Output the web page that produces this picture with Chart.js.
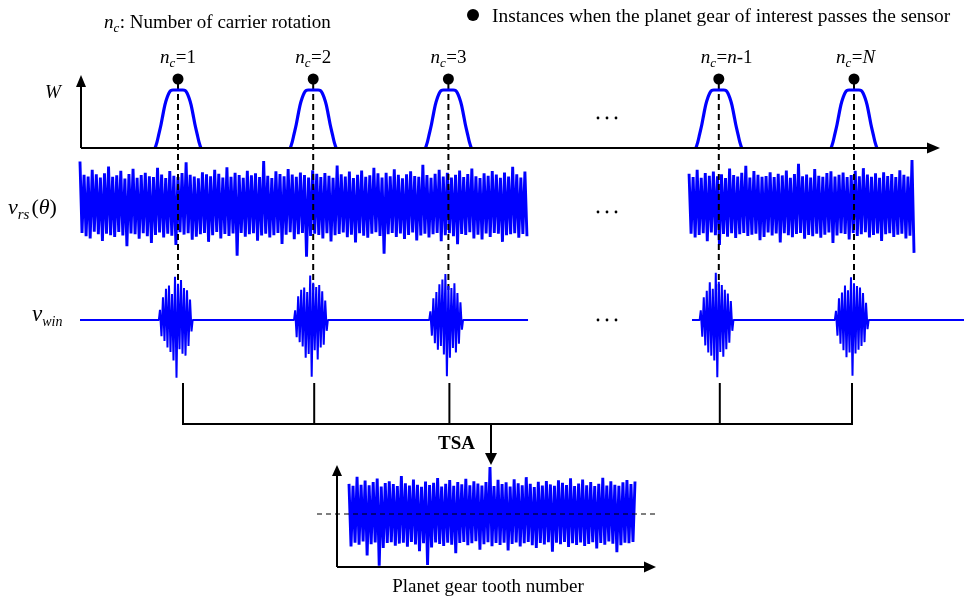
<!DOCTYPE html>
<html>
<head>
<meta charset="utf-8">
<script src="https://cdn.jsdelivr.net/npm/chart.js@4.4.0/dist/chart.umd.min.js"></script>
<style>
  html, body { margin: 0; padding: 0; background: #fff; }
  #wrap { position: relative; width: 964px; height: 597px; }
</style>
</head>
<body>
<div id="wrap"><canvas id="tsaChart" width="964" height="597"></canvas></div>
<script>
// carrier rotations that are drawn (slot 4 is left for the dots)
const rotationLabels = ['1', '2', '3', 'n-1', 'N'];
const rotationSlots = [1, 2, 3, 5, 6];

// window W against angle from the pass instant (deg of carrier rotation)
const windowDeg = [-61, -56, -51, -45, -40, -35, -29, -24, -19, -13, 0, 13, 19, 24, 29, 35, 40, 45, 51, 56, 61];
const windowGain = [0, 0.1, 0.24, 0.41, 0.58, 0.74, 0.87, 0.95, 0.99, 1, 1, 1, 0.99, 0.95, 0.87, 0.74, 0.58, 0.41, 0.24, 0.1, 0];

// v_rs(theta), first stretch (rotations 1-3) and last stretch (n-1 .. N)
const vrsFirst = [
  150, -96, 104, -108, 98, -115, 121, -92, 106, -101, 95, -124, 109, -99, 133, -104, 97, -110, 102, -93,
  118, -105, 91, -142, 107, -98, 125, -101, 94, -116, 103, -97, 111, -108, 99, -131, 96, -103, 128, -95,
  105, -112, 93, -99, 117, -106, 101, -138, 96, -94, 110, -102, 147, -97, 104, -120, 98, -109, 92, -101,
  113, -96, 106, -127, 99, -104, 121, -93, 108, -115, 95, -100, 130, -107, 97, -98, 111, -175, 103, -96,
  94, -109, 118, -101, 102, -97, 109, -123, 96, -105, 152, -99, 101, -112, 93, -104, 116, -96, 107, -134,
  99, -102, 124, -94, 105, -118, 97, -101, 112, -96, 103, -178, 95, -107, 120, -99, 108, -103, 96, -115,
  110, -97, 101, -126, 94, -104, 136, -100, 106, -95, 98, -111, 115, -102, 93, -129, 104, -97, 119, -106,
  97, -113, 102, -99, 128, -94, 109, -107, 95, -168, 111, -101, 99, -96, 123, -110, 104, -98, 92, -117,
  106, -103, 116, -95, 100, -122, 97, -105, 139, -99, 103, -112, 94, -101, 108, -96, 121, -125, 98, -104,
  111, -97, 95, -108, 104, -135, 119, -100, 96, -103, 107, -94, 126, -115, 99, -102, 93, -119, 109, -98,
  101, -110, 117, -96, 105, -99, 94, -127, 112, -104, 98, -101, 132, -97, 106, -113, 95, -100, 115, -108
];
const vrsLast = [
  108, -99, 96, -112, 121, -103, 94, -97, 110, -125, 101, -95, 115, -104, 99, -138, 106, -100, 93, -109,
  126, -97, 103, -114, 98, -101, 111, -96, 135, -107, 95, -102, 117, -99, 104, -121, 97, -110, 100, -95,
  113, -105, 96, -98, 108, -129, 102, -97, 119, -104, 94, -111, 107, -100, 142, -96, 99, -116, 105, -103,
  95, -108, 124, -99, 101, -113, 97, -102, 110, -95, 116, -131, 98, -105, 104, -97, 112, -100, 96, -119,
  103, -96, 118, -107, 99, -101, 127, -94, 105, -112, 97, -103, 109, -98, 94, -124, 113, -101, 100, -97,
  107, -110, 96, -102, 120, -99, 104, -115, 98, -106, 155, -165
];

// windowed signal v_win around each pass instant
const burstDeg = [-48, -44, -40, -36, -32, -28, -24, -20, -16, -12, -8, -4, 0, 4, 8, 12, 16, 20, 24, 28, 32, 36];
const winBursts = [
  [38, -60, 84, -78, 116, -102, 128, -118, 96, -150, 160, -214, 134, -108, 148, -125, 118, -132, 110, -96, 76, -42],
  [36, -64, 88, -82, 112, -98, 120, -140, 104, -126, 165, -210, 138, -112, 122, -146, 130, -102, 106, -92, 72, -40],
  [32, -58, 80, -86, 104, -110, 132, -96, 150, -128, 170, -208, 126, -140, 118, -104, 136, -120, 100, -88, 66, -36],
  [36, -62, 84, -94, 108, -120, 140, -132, 116, -150, 175, -212, 142, -118, 130, -136, 112, -108, 98, -84, 70, -40],
  [34, -58, 80, -88, 102, -112, 128, -138, 110, -120, 158, -206, 136, -124, 126, -110, 120, -96, 100, -82, 64, -34]
];

// time synchronous average over one planet revolution
const tsaValues = [
  104, -112, 97, -99, 128, -106, 101, -95, 115, -143, 99, -104, 110, -98, 122, -178, 95, -117, 107, -100,
  113, -97, 103, -109, 96, -102, 131, -99, 106, -113, 98, -96, 119, -105, 101, -128, 94, -101, 112, -176,
  100, -115, 108, -98, 124, -103, 95, -110, 104, -99, 117, -106, 97, -135, 110, -100, 102, -96, 121, -108,
  99, -101, 113, -94, 105, -123, 98, -104, 110, -97, 162, -111, 96, -100, 118, -107, 103, -99, 109, -126,
  95, -103, 120, -98, 106, -112, 99, -101, 127, -96, 104, -108, 93, -117, 111, -100, 98, -105, 114, -97,
  102, -130, 97, -99, 116, -104, 108, -96, 100, -114, 123, -101, 96, -107, 105, -98, 119, -110, 99, -103,
  110, -97, 96, -119, 104, -100, 125, -106, 98, -95, 113, -102, 101, -132, 97, -108, 109, -99, 117, -101,
  103, -96, 112
];

const W = 964, H = 597;
const BLUE = '#0000ff';
const SERIF = '"Liberation Serif", "Times New Roman", serif';

// where each stretch of signal starts and ends (in carrier rotations)
const rsStretches = [{ from: 0.275, to: 3.581, values: vrsFirst }, { from: 4.78, to: 6.444, values: vrsLast }];
const winStretches = [{ from: 0.275, to: 3.589 }, { from: 4.802, to: 6.82 }];
// small sideways nudges of the bracket feet, as drawn in the figure
const footNudge = [5, 1, 1, 1, -2];

function xRange(v0, p0, pxPerUnit) {
  return { min: v0 - p0 / pxPerUnit, max: v0 + (W - p0) / pxPerUnit };
}
function yRange(p0, pxPerUnit) {
  return { min: (p0 - H) / pxPerUnit, max: p0 / pxPerUnit };
}

function spread(values, from, to) {
  const step = (to - from) / (values.length - 1);
  return values.map((v, i) => ({ x: from + i * step, y: v }));
}

function lineSet(data, xAxisID, yAxisID, extra) {
  return Object.assign({
    data, xAxisID, yAxisID,
    showLine: true, pointRadius: 0, borderColor: BLUE, borderWidth: 1.8,
    borderJoinStyle: 'bevel', fill: false, tension: 0
  }, extra);
}

const datasets = [];

rsStretches.forEach(s => {
  datasets.push(lineSet(spread(s.values, s.from, s.to), 'xRot', 'yRs', { borderWidth: 2.9, order: 6 }));
});

rotationSlots.forEach(slot => {
  datasets.push(lineSet([{ x: slot, y: 84 }, { x: slot, y: 290 }], 'xRot', 'yPage', {
    borderColor: '#000', borderWidth: 2, borderDash: [6, 4], order: 5
  }));
});

winStretches.forEach(s => {
  const pts = [{ x: s.from, y: 0 }];
  rotationSlots.forEach((slot, k) => {
    if (slot < s.from || slot > s.to) return;
    pts.push({ x: slot - 51 / 360, y: 0 });
    winBursts[k].forEach((v, i) => pts.push({ x: slot + burstDeg[i] / 360, y: v }));
    pts.push({ x: slot + 39 / 360, y: 0 });
  });
  pts.push({ x: s.to, y: 0 });
  datasets.push(lineSet(pts, 'xRot', 'yWin', { borderWidth: 2, order: 4 }));
});

rotationSlots.forEach(slot => {
  const pts = windowDeg.map((d, i) => ({ x: slot + d / 360, y: windowGain[i] }));
  datasets.push(lineSet(pts, 'xRot', 'yW', { borderWidth: 3.2, borderJoinStyle: 'round', cubicInterpolationMode: 'monotone', order: 3 }));
});

datasets.push({
  data: rotationSlots.map(slot => ({ x: slot, y: 79 })),
  xAxisID: 'xRot', yAxisID: 'yPage',
  pointRadius: 5.5, pointBackgroundColor: '#000', pointBorderWidth: 0, showLine: false, order: 2
});

datasets.push(lineSet(tsaValues.map((v, i) => ({ x: i, y: v })), 'xTsa', 'yTsa', { borderWidth: 2.9, order: 6 }));

function runFont(r, base) {
  return `${r.i ? 'italic ' : ''}${r.b ? 'bold ' : ''}${r.size || base}px ${SERIF}`;
}

function drawRuns(ctx, runs, x, y, base, align) {
  let total = 0;
  runs.forEach(r => {
    ctx.font = runFont(r, base);
    r.w = ctx.measureText(r.t).width + (r.gap || 0);
    total += r.w;
  });
  let cx = align === 'center' ? x - total / 2 : align === 'right' ? x - total : x;
  runs.forEach(r => {
    ctx.font = runFont(r, base);
    ctx.fillText(r.t, cx, y + (r.dy || 0));
    cx += r.w;
  });
}

function ncRuns(label) {
  const runs = [{ t: 'n', i: 1 }, { t: 'c', i: 1, size: 13, dy: 4, gap: 0.5 }, { t: '=' }];
  label.split(/([A-Za-z]+)/).filter(Boolean).forEach(part => {
    runs.push({ t: part, i: /[A-Za-z]/.test(part) ? 1 : 0 });
  });
  return runs;
}

function seg(ctx, x1, y1, x2, y2) {
  ctx.beginPath();
  ctx.moveTo(x1, y1);
  ctx.lineTo(x2, y2);
  ctx.stroke();
}

function head(ctx, x, y, dir, len, half) {
  ctx.beginPath();
  ctx.moveTo(x, y);
  if (dir === 'up') { ctx.lineTo(x - half, y + len); ctx.lineTo(x + half, y + len); }
  if (dir === 'down') { ctx.lineTo(x - half, y - len); ctx.lineTo(x + half, y - len); }
  if (dir === 'right') { ctx.lineTo(x - len, y - half); ctx.lineTo(x - len, y + half); }
  ctx.closePath();
  ctx.fill();
}

function dot(ctx, x, y, r) {
  ctx.beginPath();
  ctx.arc(x, y, r, 0, Math.PI * 2);
  ctx.fill();
}

const decor = {
  id: 'decor',
  afterDatasetsDraw(chart) {
    const ctx = chart.ctx;
    const xr = chart.scales.xRot;
    ctx.save();
    ctx.strokeStyle = '#000';
    ctx.fillStyle = '#000';
    ctx.lineWidth = 2;
    ctx.textBaseline = 'alphabetic';
    ctx.textAlign = 'left';

    // W axes
    seg(ctx, 81, 148, 81, 84);
    head(ctx, 81, 75, 'up', 12, 5);
    seg(ctx, 81, 148, 930, 148);
    head(ctx, 940, 148, 'right', 13, 5.5);

    // brackets joining the windowed pieces
    const feet = rotationSlots.map((s, k) => xr.getPixelForValue(s) + footNudge[k]);
    feet.forEach(x => seg(ctx, x, 383, x, 424));
    seg(ctx, feet[0] - 1, 424, feet[feet.length - 1] + 1, 424);
    seg(ctx, 491, 424, 491, 454);
    head(ctx, 491, 465, 'down', 12, 6);

    // TSA result axes
    seg(ctx, 337, 567, 337, 474);
    head(ctx, 337, 465, 'up', 11, 5);
    seg(ctx, 337, 567, 646, 567);
    head(ctx, 656, 567, 'right', 12, 5.5);

    // mean line of the average
    ctx.lineWidth = 1.2;
    ctx.setLineDash([5, 4]);
    seg(ctx, 317, 514, 657, 514);
    ctx.setLineDash([]);

    // skipped rotations
    [118, 212, 320].forEach(y => [598, 607, 616].forEach(x => dot(ctx, x, y, 1.4)));

    // legend
    dot(ctx, 473, 15, 6);
    drawRuns(ctx, [{ t: 'Instances when the planet gear of interest passes the sensor' }], 492, 22, 19.4, 'left');
    drawRuns(ctx, [{ t: 'n', i: 1 }, { t: 'c', i: 1, size: 13, dy: 4, gap: 0.5 }, { t: ': Number of carrier rotation' }], 104, 28, 19, 'left');

    rotationLabels.forEach((lab, k) => {
      drawRuns(ctx, ncRuns(lab), xr.getPixelForValue(rotationSlots[k]) - 18, 63, 19, 'left');
    });

    drawRuns(ctx, [{ t: 'W', i: 1 }], 45, 98, 19, 'left');
    drawRuns(ctx, [{ t: 'v', i: 1 }, { t: 'rs', i: 1, size: 15, dy: 5, gap: 2 }, { t: '(' }, { t: 'θ', i: 1 }, { t: ')' }], 8, 214, 22, 'left');
    drawRuns(ctx, [{ t: 'v', i: 1 }, { t: 'win', i: 1, size: 14, dy: 5 }], 32, 321, 23, 'left');
    drawRuns(ctx, [{ t: 'TSA', b: 1 }], 438, 449, 19, 'left');
    drawRuns(ctx, [{ t: 'Planet gear tooth number' }], 488, 592, 19, 'center');
    ctx.restore();
  }
};

const hidden = { type: 'linear', display: false };

new Chart(document.getElementById('tsaChart'), {
  type: 'scatter',
  data: { datasets },
  options: {
    responsive: false,
    animation: false,
    events: [],
    layout: { padding: 0, autoPadding: false },
    plugins: { legend: { display: false }, tooltip: { enabled: false } },
    scales: {
      x: { display: false },
      y: { display: false },
      xRot: Object.assign({ axis: 'x' }, hidden, xRange(1, 178, 135.2)),
      xTsa: Object.assign({ axis: 'x' }, hidden, xRange(0, 349, 286 / (tsaValues.length - 1))),
      yW: Object.assign({ axis: 'y' }, hidden, yRange(148, 58)),
      yRs: Object.assign({ axis: 'y' }, hidden, yRange(205, 0.29)),
      yWin: Object.assign({ axis: 'y' }, hidden, yRange(320, 0.27)),
      yTsa: Object.assign({ axis: 'y' }, hidden, yRange(514, 0.29)),
      yPage: Object.assign({ axis: 'y' }, hidden, { min: 0, max: H, reverse: true })
    }
  },
  plugins: [decor]
});
</script>
</body>
</html>
